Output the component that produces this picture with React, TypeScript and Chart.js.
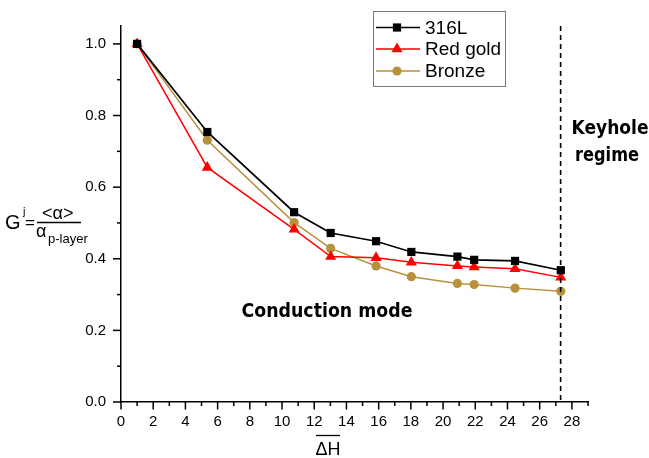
import React, { useEffect, useRef } from 'react';
import { Chart, registerables } from 'chart.js';

Chart.register(...registerables);

// ---- Data ----
const xValues = [1, 5.36, 10.75, 13.02, 15.84, 18.03, 20.89, 21.93, 24.47, 27.31];
const s316L = [1.0, 0.754, 0.53, 0.472, 0.449, 0.419, 0.406, 0.397, 0.394, 0.368];
const redGold = [1.0, 0.655, 0.482, 0.406, 0.403, 0.39, 0.38, 0.377, 0.372, 0.348];
const bronze = [1.0, 0.731, 0.501, 0.429, 0.38, 0.35, 0.331, 0.328, 0.318, 0.309];
const seriesNames = ['316L', 'Red gold', 'Bronze'];
const keyholeX = 27.3;
const xMin = 0;
const xMax = 29;
const yMin = 0;
const yMax = 1.05;

const W = 649;
const H = 458;
const FONT = '"Liberation Sans", Arial, sans-serif';
const BOLD_FONT = '"DejaVu Sans", Verdana, sans-serif';

const colors = ['#000000', '#ff0000', '#b8913c'];
const styles = ['rect', 'triangle', 'circle'];
const radii = [5.8, 6.4, 4.6];

function drawMarker(ctx: CanvasRenderingContext2D, style: string, x: number, y: number, r: number, color: string) {
  ctx.save();
  ctx.fillStyle = color;
  ctx.beginPath();
  if (style === 'rect') {
    const s = Math.SQRT1_2 * r;
    ctx.rect(x - s, y - s, 2 * s, 2 * s);
  } else if (style === 'triangle') {
    ctx.moveTo(x, y - r);
    ctx.lineTo(x + r * Math.cos(Math.PI / 6), y + r / 2);
    ctx.lineTo(x - r * Math.cos(Math.PI / 6), y + r / 2);
    ctx.closePath();
  } else {
    ctx.arc(x, y, r, 0, Math.PI * 2);
  }
  ctx.fill();
  ctx.restore();
}

const decorPlugin = {
  id: 'decor',
  afterDatasetsDraw(chart: any) {
    const ctx: CanvasRenderingContext2D = chart.ctx;
    const xs = chart.scales.x;
    const ys = chart.scales.y;
    const area = chart.chartArea;
    ctx.save();
    // minor/major ticks
    ctx.strokeStyle = '#000';
    ctx.lineWidth = 1.5;
    xs.ticks.forEach((t: any) => {
      const v = t.value;
      const major = Math.round(v) % 2 === 0;
      const px = xs.getPixelForValue(v);
      ctx.beginPath();
      ctx.moveTo(px, area.bottom);
      ctx.lineTo(px, area.bottom + (major ? 7.5 : 4));
      ctx.stroke();
    });
    ys.ticks.forEach((t: any) => {
      const v = t.value;
      const major = Math.round(v * 10) % 2 === 0;
      const py = ys.getPixelForValue(v);
      ctx.beginPath();
      ctx.moveTo(area.left, py);
      ctx.lineTo(area.left - (major ? 8 : 4), py);
      ctx.stroke();
    });

    // keyhole dashed line
    const kx = xs.getPixelForValue(keyholeX);
    ctx.setLineDash([5, 4]);
    ctx.lineWidth = 1.6;
    ctx.beginPath();
    ctx.moveTo(kx, area.top);
    ctx.lineTo(kx, area.bottom);
    ctx.stroke();
    ctx.setLineDash([]);

    // annotations
    ctx.fillStyle = '#000';
    ctx.textAlign = 'center';
    ctx.textBaseline = 'middle';
    ctx.font = `bold 19px ${BOLD_FONT}`;
    ctx.fillText('Keyhole', 610, 129, 77);
    ctx.fillText('regime', 607, 156, 64);
    ctx.fillText('Conduction mode', 327, 312, 171);

    // y-axis label
    ctx.textAlign = 'left';
    ctx.textBaseline = 'alphabetic';
    ctx.font = `20px ${FONT}`;
    ctx.fillText('G', 5, 229);
    ctx.font = `11px ${FONT}`;
    ctx.fillText('j', 23, 215);
    ctx.font = `17px ${FONT}`;
    ctx.fillText('=', 25, 228);
    ctx.font = `18px ${FONT}`;
    ctx.fillText('<\u03B1>', 42, 219);
    ctx.lineWidth = 1.3;
    ctx.beginPath();
    ctx.moveTo(37, 222.5);
    ctx.lineTo(81, 222.5);
    ctx.stroke();
    ctx.font = `18px ${FONT}`;
    ctx.fillText('\u03B1', 36, 237);
    ctx.font = `13px ${FONT}`;
    ctx.fillText('p-layer', 48, 243);

    // x-axis label
    ctx.font = `18px ${FONT}`;
    ctx.textAlign = 'center';
    ctx.fillText('\u0394H', 328, 455);
    ctx.lineWidth = 1.3;
    ctx.beginPath();
    ctx.moveTo(316, 435.5);
    ctx.lineTo(340, 435.5);
    ctx.stroke();

    // legend
    const lx = 373.5, ly = 11.5, lw = 132, lh = 75;
    ctx.strokeStyle = '#7a7a7a';
    ctx.lineWidth = 1;
    ctx.strokeRect(lx, ly, lw, lh);
    const rows = [27.5, 49, 71];
    ctx.textAlign = 'left';
    ctx.textBaseline = 'middle';
    ctx.font = `19px ${FONT}`;
    seriesNames.forEach((name, i) => {
      const y = rows[i];
      ctx.strokeStyle = colors[i];
      ctx.lineWidth = i === 0 ? 1.6 : 1.4;
      ctx.beginPath();
      ctx.moveTo(376, y);
      ctx.lineTo(420, y);
      ctx.stroke();
      drawMarker(ctx, styles[i], 397, y, radii[i], colors[i]);
      ctx.fillStyle = '#000';
      ctx.fillText(name, 425, y + 1);
    });
    ctx.restore();
  },
};

export default function App() {
  const ref = useRef<HTMLCanvasElement>(null);
  useEffect(() => {
    if (!ref.current) return;
    const series = [s316L, redGold, bronze];
    const chart = new Chart(ref.current, {
      type: 'line',
      data: {
        datasets: series.map((vals, i) => ({
          label: seriesNames[i],
          data: xValues.map((x, j) => ({ x, y: vals[j] })),
          borderColor: colors[i],
          backgroundColor: colors[i],
          borderWidth: i === 0 ? 1.7 : 1.5,
          pointStyle: styles[i] as any,
          pointRadius: radii[i],
          pointBorderWidth: 0,
          pointBackgroundColor: colors[i],
          tension: 0,
          clip: false as any,
        })),
      },
      options: {
        responsive: false,
        animation: false,
        devicePixelRatio: 1,
        layout: { padding: { top: 26, right: 61, left: 0, bottom: 0 } },
        plugins: { legend: { display: false }, tooltip: { enabled: false } },
        scales: {
          x: {
            type: 'linear',
            min: xMin,
            max: xMax,
            grid: { display: false, drawTicks: false },
            border: { display: true, color: '#000', width: 1.5 },
            ticks: {
              stepSize: 1,
              autoSkip: false,
              maxRotation: 0,
              padding: 11,
              color: '#000',
              font: { family: FONT, size: 15 },
              callback: (v: any) => (Math.round(v) % 2 === 0 ? String(Math.round(v)) : ''),
            },
            afterFit: (s: any) => {
              s.height = 56;
            },
          },
          y: {
            type: 'linear',
            min: yMin,
            max: yMax,
            grid: { display: false, drawTicks: false },
            border: { display: true, color: '#000', width: 1.5 },
            ticks: {
              stepSize: 0.1,
              includeBounds: false,
              autoSkip: false,
              padding: 15,
              color: '#000',
              font: { family: FONT, size: 15 },
              callback: (v: any) => (Math.round(v * 10) % 2 === 0 ? Number(v).toFixed(1) : ''),
            },
            afterFit: (s: any) => {
              s.width = 121;
            },
          },
        },
      },
      plugins: [decorPlugin],
    });
    return () => chart.destroy();
  }, []);
  return (
    <div style={{ position: 'fixed', left: 0, top: 0, width: W, height: H, background: '#fff' }}>
      <canvas ref={ref} width={W} height={H} style={{ width: W, height: H, display: 'block' }} />
    </div>
  );
}
